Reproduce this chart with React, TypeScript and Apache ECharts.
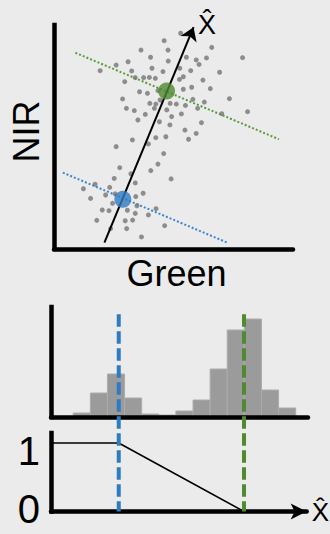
import React, { useEffect, useRef } from "react";
import * as echarts from "echarts";

// ---- top panel: Green vs NIR scatter (data units 0..100) ----
const scatterPoints: [number, number][] = [
  [53.0, 96.3], [46.1, 93.0], [66.0, 90.0], [36.4, 88.8], [47.7, 88.8], [40.4, 85.6],
  [31.0, 83.6], [47.8, 83.9], [55.4, 85.6], [59.5, 84.4], [60.7, 82.4], [63.8, 85.3],
  [78.9, 85.4], [26.0, 82.1], [19.3, 79.6], [32.5, 79.5], [41.0, 80.7], [45.6, 79.2],
  [52.6, 80.7], [57.2, 79.6], [69.3, 78.9], [29.6, 74.7], [34.0, 76.5], [37.5, 76.5],
  [39.9, 76.6], [42.4, 76.2], [52.5, 75.7], [54.1, 76.9], [62.3, 75.4], [35.8, 70.2],
  [39.1, 69.5], [43.5, 70.7], [54.1, 71.3], [57.6, 72.2], [65.4, 71.6], [28.7, 67.0],
  [40.1, 65.0], [42.6, 64.7], [44.4, 66.5], [48.6, 65.0], [51.2, 64.7], [55.0, 64.1],
  [58.1, 66.8], [62.9, 65.6], [73.4, 67.1], [30.3, 62.8], [33.6, 61.8], [38.2, 60.1],
  [42.0, 62.8], [47.2, 62.1], [60.1, 62.8], [70.2, 60.4], [81.0, 61.3], [35.1, 57.6],
  [44.1, 56.8], [49.2, 59.1], [53.3, 60.3], [48.5, 55.4], [61.7, 56.4], [54.8, 53.1],
  [59.5, 51.6], [46.8, 50.1], [56.3, 49.0], [42.6, 49.7], [32.8, 48.7], [39.5, 46.9],
  [26.0, 45.7], [45.9, 42.6], [43.5, 37.9], [40.5, 35.0], [27.5, 36.3], [32.2, 33.6],
  [49.0, 31.3], [25.2, 31.5], [17.2, 28.9], [23.3, 27.5], [34.0, 29.5], [12.3, 26.9],
  [15.3, 22.6], [25.6, 24.6], [37.3, 24.9], [21.6, 24.1], [34.2, 23.4], [24.5, 20.4],
  [34.7, 19.3], [42.7, 18.0], [20.2, 17.4], [23.0, 17.1], [30.7, 17.3], [39.5, 15.2],
  [34.0, 15.9], [17.9, 12.8], [29.8, 12.6], [32.9, 12.9], [46.3, 10.4], [23.7, 9.1],
  [30.4, 9.1], [36.6, 5.4],
];
const blueCentroid: [number, number] = [28.8, 22.2];
const greenCentroid: [number, number] = [47.1, 70.5];
const arrowLine: [number, number][] = [[21.1, 2.8], [58.4, 99.0]];
const greenDotted: [number, number][] = [[8.95, 87.6], [94.1, 49.0]];
const blueDotted: [number, number][] = [[3.7, 34.1], [72.6, 2.8]];

// ---- histogram of projected values X-hat ----
const binStarts = [0, 1, 2, 3, 4, 5, 6, 7, 8, 9, 10, 11, 12];
const binHeights = [0.4, 2.4, 4.3, 1.9, 0.3, 0.2, 0.6, 1.7, 4.8, 8.7, 9.8, 2.7, 0.9];
const blueProjection = 2.68;
const greenProjection = 10.04;

// ---- membership function ----
const membershipX = [-1.3, blueProjection, greenProjection];
const membershipY = [1, 1, 0];

const BLUE = "#2f7bc2";
const GREEN = "#4e8a30";
const FONT = '"Liberation Sans", Arial, Helvetica, sans-serif';
const X_MIN = -1.3;
const X_MAX = 13.72;
const DASH_TOP = 2.88;

export default function App() {
  const ref = useRef<HTMLDivElement>(null);
  useEffect(() => {
    if (!ref.current) return;
    const chart = echarts.init(ref.current, undefined, { renderer: "svg" });
    const hidden = { show: false };
    const axisLine = { show: true, onZero: false, lineStyle: { color: "#000", width: 4.5 } };
    chart.setOption({
      animation: false,
      backgroundColor: "#ebebeb",
      textStyle: { fontFamily: FONT },
      grid: [
        { left: 51, top: 25, width: 242, height: 224 },
        { left: 51, top: 307, width: 257, height: 110 },
        { left: 51, top: 433, width: 257, height: 86.5 },
      ],
      xAxis: [
        {
          gridIndex: 0, type: "value", min: 0, max: 100,
          axisLine, axisTick: hidden, axisLabel: hidden, splitLine: hidden,
          name: "Green", nameLocation: "middle", nameGap: 6,
          nameTextStyle: { fontSize: 36, color: "#000", fontFamily: FONT, padding: [0, 0, 0, 6] },
        },
        {
          gridIndex: 1, type: "value", min: X_MIN, max: X_MAX, z: 3,
          axisLine, axisTick: hidden, axisLabel: hidden, splitLine: hidden,
        },
        {
          gridIndex: 2, type: "value", min: X_MIN, max: X_MAX, z: 3,
          axisLine: { ...axisLine, symbol: ["none", "arrow"], symbolSize: [12, 16] },
          axisTick: hidden, axisLabel: hidden, splitLine: hidden,
          name: "X\u0302", nameLocation: "end", nameGap: 5,
          nameTextStyle: { fontSize: 26, color: "#000", fontFamily: FONT, padding: [0, 0, 4, 0] },
        },
      ],
      yAxis: [
        {
          gridIndex: 0, type: "value", min: 0, max: 100,
          axisLine: { ...axisLine, lineStyle: { ...axisLine.lineStyle, cap: "square" } },
          axisTick: hidden, axisLabel: hidden, splitLine: hidden,
          name: "NIR", nameLocation: "middle", nameGap: 10,
          nameTextStyle: { fontSize: 36, color: "#000", fontFamily: FONT, padding: [0, 0, 0, 11] },
        },
        {
          gridIndex: 1, type: "value", min: 0, max: 11, z: 3,
          axisLine: { ...axisLine, lineStyle: { ...axisLine.lineStyle, cap: "square" } },
          axisTick: hidden, axisLabel: hidden, splitLine: hidden,
        },
        {
          gridIndex: 2, type: "value", min: 0, max: 1.146, interval: 1, z: 3,
          axisLine: { ...axisLine, lineStyle: { ...axisLine.lineStyle, cap: "square" } },
          axisTick: hidden, splitLine: hidden,
          axisLabel: {
            show: true, margin: 11, showMaxLabel: false,
            formatter: (v: number) => (v === 1 ? "{one|1}" : v === 0 ? "{zero|0}" : ""),
            rich: {
              one: { fontSize: 40, color: "#000", fontFamily: FONT, padding: [16, 0, 0, 0] },
              zero: { fontSize: 40, lineHeight: 30, color: "#000", fontFamily: FONT, padding: [0, 0, 5, 0] },
            },
          },
        },
      ],
      graphic: [
        {
          type: "text", left: 198, top: 11,
          style: { text: "X\u0302", font: `27px ${FONT}`, fill: "#000" },
        },
      ],
      series: [
        {
          type: "line", xAxisIndex: 0, yAxisIndex: 0, data: greenDotted, symbol: "none",
          lineStyle: { color: "#5b9a3a", width: 2, type: [2, 2] }, z: 2,
        },
        {
          type: "line", xAxisIndex: 0, yAxisIndex: 0, data: blueDotted, symbol: "none",
          lineStyle: { color: "#3a86cf", width: 2, type: [2, 2] }, z: 2,
        },
        {
          type: "scatter", xAxisIndex: 0, yAxisIndex: 0, data: scatterPoints,
          symbolSize: 5, itemStyle: { color: "#767676" }, z: 3,
        },
        {
          type: "lines", coordinateSystem: "cartesian2d", xAxisIndex: 0, yAxisIndex: 0,
          symbol: ["none", "arrow"], symbolSize: [9, 13],
          lineStyle: { color: "#000", width: 2, opacity: 1 },
          data: [{ coords: arrowLine }], z: 4,
        },
        {
          type: "scatter", xAxisIndex: 0, yAxisIndex: 0, symbolSize: 17, z: 5,
          data: [
            { value: blueCentroid, itemStyle: { color: BLUE } },
            { value: greenCentroid, itemStyle: { color: GREEN } },
          ],
        },
        {
          type: "custom", xAxisIndex: 1, yAxisIndex: 1, z: 1,
          data: binStarts.map((s, i) => [s, s + 1, binHeights[i]]),
          encode: { x: [0, 1], y: 2 },
          renderItem: (_p: any, api: any) => {
            const a = api.coord([api.value(0), api.value(2)]);
            const b = api.coord([api.value(1), 0]);
            return {
              type: "rect",
              shape: { x: a[0], y: a[1], width: b[0] - a[0], height: b[1] - a[1] },
              style: { fill: "#9b9b9b", stroke: "#acacac", lineWidth: 1 },
            };
          },
        },
        {
          type: "line", xAxisIndex: 2, yAxisIndex: 2, symbol: "none", z: 2,
          data: membershipX.map((x, i) => [x, membershipY[i]]),
          lineStyle: { color: "#000", width: 1.6 },
        },
        {
          type: "custom", xAxisIndex: 2, yAxisIndex: 2, z: 6, clip: false,
          data: [
            { value: [blueProjection, 0], itemStyle: { color: BLUE } },
            { value: [greenProjection, 0], itemStyle: { color: GREEN } },
          ],
          renderItem: (_p: any, api: any) => {
            const top = api.coord([api.value(0), DASH_TOP]);
            const bottom = api.coord([api.value(0), 0]);
            return {
              type: "line",
              shape: { x1: top[0], y1: top[1], x2: bottom[0], y2: bottom[1] },
              style: { stroke: api.visual("color"), lineWidth: 4, lineDash: [12.5, 4.5] },
            };
          },
        },
      ],
    });
    return () => chart.dispose();
  }, []);
  return (
    <div
      ref={ref}
      style={{ position: "absolute", left: 0, top: 0, width: 330, height: 534 }}
    />
  );
}
